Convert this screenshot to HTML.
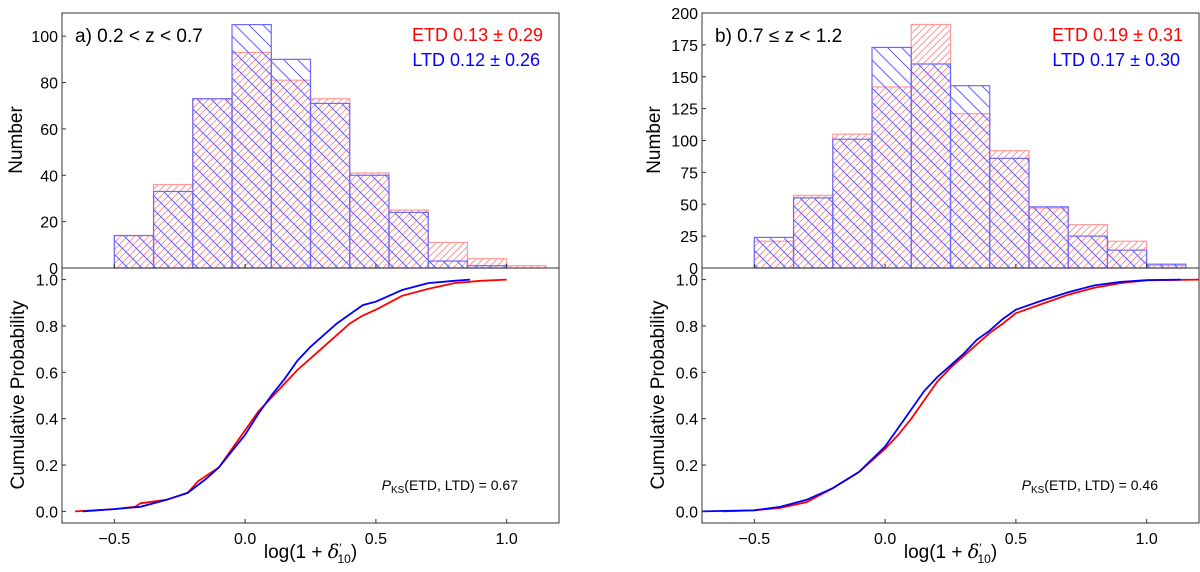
<!DOCTYPE html>
<html><head><meta charset="utf-8">
<style>
html,body{margin:0;padding:0;background:#fff;}
svg{display:block;font-family:"Liberation Sans","DejaVu Sans",sans-serif;}
</style></head>
<body>
<svg id="fig" width="1200" height="572" viewBox="0 0 1200 572" xmlns="http://www.w3.org/2000/svg">
<defs>
<pattern id="hatchRed" patternUnits="userSpaceOnUse" width="7" height="7">
<path d="M-1,8 L8,-1 M-1,1 L1,-1 M6,8 L8,6" stroke="#ff8a8a" stroke-width="0.9"/>
</pattern>
<pattern id="hatchBlue" patternUnits="userSpaceOnUse" width="14" height="14">
<path d="M-1,-1 L15,15 M-1,13 L1,15 M13,-1 L15,1" stroke="#5050ff" stroke-width="0.9"/>
</pattern>
</defs>
<g id="root"></g>
</svg>
<script>
// ---- data ----
const binEdges = [-0.5,-0.35,-0.2,-0.05,0.1,0.25,0.4,0.55,0.7,0.85,1.0,1.15];
const etdCountsA = [14,36,73,93,81,73,41,25,11,4,1];
const ltdCountsA = [14,33,73,105,90,71,40,24,3,1,0];
const etdCountsB = [21,57,105,142,191,121,92,47,34,21,2];
const ltdCountsB = [24,55,101,173,160,143,86,48,25,14,3];

const etdCdfXA = [-0.65,-0.5,-0.42,-0.4,-0.3,-0.22,-0.18,-0.1,-0.05,0,0.05,0.1,0.15,0.2,0.25,0.3,0.35,0.4,0.45,0.5,0.55,0.6,0.7,0.8,0.9,1.0];
const etdCdfYA = [0,0.01,0.02,0.035,0.05,0.08,0.13,0.19,0.27,0.35,0.43,0.49,0.55,0.61,0.66,0.71,0.76,0.81,0.845,0.87,0.9,0.93,0.96,0.985,0.995,1.0];
const ltdCdfXA = [-0.62,-0.5,-0.4,-0.3,-0.22,-0.15,-0.1,-0.05,0,0.05,0.1,0.15,0.2,0.25,0.3,0.35,0.4,0.45,0.5,0.55,0.6,0.7,0.8,0.86];
const ltdCdfYA = [0,0.01,0.02,0.05,0.08,0.14,0.19,0.26,0.33,0.42,0.5,0.57,0.65,0.71,0.76,0.81,0.85,0.89,0.905,0.93,0.955,0.985,0.995,1.0];

const etdCdfXB = [-0.62,-0.5,-0.4,-0.3,-0.2,-0.1,0,0.05,0.1,0.15,0.2,0.25,0.3,0.35,0.4,0.45,0.5,0.6,0.7,0.8,0.9,1.0,1.2];
const etdCdfYB = [0,0.005,0.015,0.04,0.1,0.17,0.27,0.33,0.4,0.48,0.56,0.62,0.67,0.72,0.77,0.81,0.855,0.895,0.935,0.965,0.985,0.997,1.0];
const ltdCdfXB = [-0.7,-0.5,-0.4,-0.3,-0.2,-0.1,0,0.05,0.1,0.15,0.2,0.25,0.3,0.35,0.4,0.45,0.5,0.6,0.7,0.8,0.9,1.0,1.13];
const ltdCdfYB = [0,0.005,0.02,0.05,0.1,0.17,0.28,0.36,0.44,0.52,0.58,0.63,0.68,0.74,0.78,0.83,0.87,0.91,0.945,0.975,0.99,0.998,1.0];

const xTicks = [-0.5,0.0,0.5,1.0];
const xTickLabels = ["\u22120.5","0.0","0.5","1.0"];
const yTicksA = [0,20,40,60,80,100];
const yTicksB = [0,25,50,75,100,125,150,175,200];
const cdfTicks = [0,0.2,0.4,0.6,0.8,1.0];
const cdfTickLabels = ["0.0","0.2","0.4","0.6","0.8","1.0"];

// ---- drawing ----
const NS = "http://www.w3.org/2000/svg";
const root = document.getElementById('root');
function mk(tag, attrs, parent, text){
  const e = document.createElementNS(NS, tag);
  for (const k in attrs) e.setAttribute(k, attrs[k]);
  if (text !== undefined) e.textContent = text;
  (parent||root).appendChild(e);
  return e;
}

function panel(cfg){
  const L = cfg.left, R = cfg.left + 497;
  const T = 13, M = 268, B = 523;
  const xs = v => L + (v + 0.7) / 1.9 * (R - L);
  const yh = v => M - v / cfg.ymax * (M - T);
  const yc = v => B - (v + 0.05) / 1.1 * (B - M);

  const g = mk('g', {});
  
  

  const series = [
    {counts: cfg.etd, fill: 'url(#hatchRed)', stroke: '#ff9a9a', name: 'etd'},
    {counts: cfg.ltd, fill: 'url(#hatchBlue)', stroke: '#6b6bff', name: 'ltd'}
  ];
  series.forEach(s => {
    s.counts.forEach((c, i) => {
      if (c <= 0) return;
      const x0 = xs(binEdges[i]), x1 = xs(binEdges[i+1]);
      const r = mk('rect', {x: x0, y: yh(c), width: x1 - x0, height: M - yh(c), fill: s.fill, stroke: s.stroke, 'stroke-width': 1.2}, g);
      
      
    });
  });

  const lines = [
    {xsArr: cfg.etdX, ysArr: cfg.etdY, color: '#ff0000', name: 'etd'},
    {xsArr: cfg.ltdX, ysArr: cfg.ltdY, color: '#0000ff', name: 'ltd'}
  ];
  lines.forEach(l => {
    let d = '';
    l.xsArr.forEach((v, i) => { d += (i ? 'L' : 'M') + xs(v).toFixed(1) + ',' + yc(l.ysArr[i]).toFixed(1); });
    const p = mk('path', {d: d, fill: 'none', stroke: l.color, 'stroke-width': 1.8}, g);
    
    
  });

  const f1 = mk('rect', {x: L, y: T, width: R - L, height: M - T, fill: 'none', stroke: '#333', 'stroke-width': 1}, g);
  
  
  const f2 = mk('rect', {x: L, y: M, width: R - L, height: B - M, fill: 'none', stroke: '#333', 'stroke-width': 1}, g);
  
  

  xTicks.forEach((v, i) => {
    const x = xs(v);
    mk('line', {x1: x, y1: M, x2: x, y2: M - 4, stroke: '#333'}, g);
    mk('line', {x1: x, y1: B, x2: x, y2: B - 4, stroke: '#333'}, g);
    const t = mk('text', {x: x, y: B + 21, 'font-size': 16, 'text-anchor': 'middle', fill: '#000'}, g, xTickLabels[i]);
    
    
  });
  cfg.yTicks.forEach(v => {
    const y = yh(v);
    mk('line', {x1: L, y1: y, x2: L + 4, y2: y, stroke: '#333'}, g);
    const t = mk('text', {x: L - 4, y: y + 6, 'font-size': 16, 'text-anchor': 'end', fill: '#000'}, g, String(v));
    
    
  });
  cdfTicks.forEach((v, i) => {
    const y = yc(v);
    mk('line', {x1: L, y1: y, x2: L + 4, y2: y, stroke: '#333'}, g);
    const t = mk('text', {x: L - 4, y: y + 6, 'font-size': 16, 'text-anchor': 'end', fill: '#000'}, g, cdfTickLabels[i]);
    
    
  });

  const ylx = cfg.nameX;
  const t1 = mk('text', {x: ylx, y: 140, 'font-size': 19, 'text-anchor': 'middle', transform: 'rotate(-90 ' + ylx + ' 140)'}, g, 'Number');
  
  
  const cx = cfg.cumX;
  const t2 = mk('text', {x: cx, y: 395, 'font-size': 19, 'text-anchor': 'middle', transform: 'rotate(-90 ' + cx + ' 395)'}, g, 'Cumulative Probability');
  
  
  const xl = mk('text', {x: (L + R) / 2, y: 558, 'font-size': 19, 'text-anchor': 'middle'}, g);
  
  
  xl.innerHTML = 'log(1 + <tspan font-style="italic" font-family="DejaVu Serif, serif">δ</tspan><tspan font-size="12" dy="-6">′</tspan><tspan font-size="12" dy="11" dx="-4">10</tspan><tspan dy="-5">)</tspan>';

  const a = mk('text', {x: L + 13, y: 42, 'font-size': 19, fill: '#000'}, g, cfg.label);
  
  
  const e = mk('text', {x: R - 16, y: 41, 'font-size': 18, 'text-anchor': 'end', fill: '#ff0000'}, g, cfg.etdText);
  
  
  const lt = mk('text', {x: R - 19, y: 66, 'font-size': 18, 'text-anchor': 'end', fill: '#0000ff'}, g, cfg.ltdText);
  
  
  const k = mk('text', {x: R - 41, y: 490, 'font-size': 14, 'text-anchor': 'end', fill: '#000'}, g);
  
  
  k.innerHTML = '<tspan font-style="italic">P</tspan><tspan font-size="10" dy="3">KS</tspan><tspan dy="-3">(ETD, LTD) = ' + cfg.ks + '</tspan>';
}

panel({id: 'panel-a', left: 62, ymax: 110, yTicks: yTicksA, etd: etdCountsA, ltd: ltdCountsA,
  etdX: etdCdfXA, etdY: etdCdfYA, ltdX: ltdCdfXA, ltdY: ltdCdfYA,
  nameX: 22, cumX: 24, label: 'a) 0.2 < z < 0.7', etdText: 'ETD 0.13 ± 0.29', ltdText: 'LTD 0.12 ± 0.26', ks: '0.67'});
panel({id: 'panel-b', left: 702, ymax: 200, yTicks: yTicksB, etd: etdCountsB, ltd: ltdCountsB,
  etdX: etdCdfXB, etdY: etdCdfYB, ltdX: ltdCdfXB, ltdY: ltdCdfYB,
  nameX: 660, cumX: 664, label: 'b) 0.7 ≤ z < 1.2', etdText: 'ETD 0.19 ± 0.31', ltdText: 'LTD 0.17 ± 0.30', ks: '0.46'});
</script>
</body></html>
